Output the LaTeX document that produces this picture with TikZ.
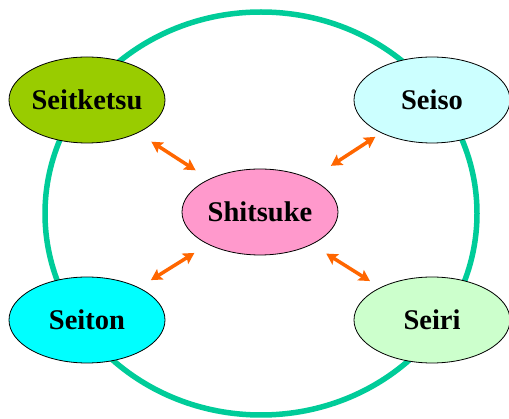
\documentclass[tikz,border=0pt]{standalone}
\usepackage{fontspec}
\setmainfont{Liberation Serif}
\usetikzlibrary{shapes.geometric,arrows.meta}
\definecolor{ringc}{HTML}{00CC99}
\definecolor{arrc}{HTML}{FF6600}
\definecolor{cA}{HTML}{99CC00}
\definecolor{cB}{HTML}{CCFFFF}
\definecolor{cC}{HTML}{FF99CC}
\definecolor{cD}{HTML}{00FFFF}
\definecolor{cE}{HTML}{CCFFCC}
\tikzset{
  sbox/.style={ellipse, draw=black, line width=0.8pt, inner sep=0pt,
    minimum width=156pt, minimum height=86pt,
    font=\fontsize{28.5}{30}\selectfont\bfseries},
  dbl/.style={arrc, line width=3.5pt,
    {Stealth[length=11pt,width=12pt,inset=2pt]}-{Stealth[length=11pt,width=12pt,inset=2pt]}},
  ring/.style={draw=ringc, line width=5.5pt}
}
\newcommand{\zw}[1]{\makebox[0pt]{#1}}
\begin{document}
\begin{tikzpicture}[x=1pt,y=-1pt]
\useasboundingbox (0,0) rectangle (509,419);
\fill[white] (0,0) rectangle (509,419);
\draw[ring] (261,213.5) ellipse [x radius=216, y radius=201.5];
\node[sbox, fill=cA] (seitketsu) at (87,100) {\zw{Seitketsu}};
\node[sbox, fill=cB] (seiso) at (432,100) {\zw{Seiso}};
\node[sbox, fill=cC] (shitsuke) at (260,212) {\zw{Shitsuke}};
\node[sbox, fill=cD] (seiton) at (87,320) {\zw{Seiton}};
\node[sbox, fill=cE] (seiri) at (432,320) {\zw{Seiri}};
\draw[dbl, shorten <=16pt, shorten >=16pt] (shitsuke) -- (seitketsu);
\draw[dbl, shorten <=24pt, shorten >=7pt] (shitsuke) -- (seiso);
\draw[dbl, shorten <=16pt, shorten >=14pt] (shitsuke) -- (seiton);
\draw[dbl, shorten <=17pt, shorten >=12pt] (shitsuke) -- (seiri);
\end{tikzpicture}
\end{document}
